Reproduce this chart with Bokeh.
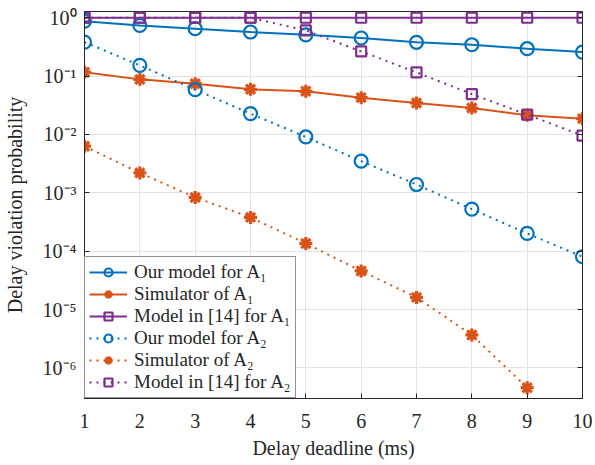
from bokeh.plotting import figure
from bokeh.models import (Range1d, FixedTicker, LogAxis, Legend, LegendItem,
                          CustomJSTickFormatter)
from bokeh.embed import file_html
from bokeh.resources import INLINE

# ---- data ----
x = [1, 2, 3, 4, 5, 6, 7, 8, 9, 10]
our_a1 = [0.875, 0.74, 0.65, 0.57, 0.51, 0.45, 0.38, 0.345, 0.295, 0.258]
sim_a1 = [0.117, 0.088, 0.0743, 0.0594, 0.055, 0.0428, 0.0347, 0.0284, 0.0213, 0.0187]
ref_a1 = [1.0, 1.0, 1.0, 1.0, 1.0, 1.0, 1.0, 1.0, 1.0, 1.0]
our_a2 = [0.383, 0.153, 0.0587, 0.0228, 0.00908, 0.00349, 0.00139, 5.26e-4, 2.02e-4, 8.05e-5]
sim_a2 = [6.3e-3, 2.2e-3, 8.35e-4, 3.8e-4, 1.36e-4, 4.6e-5, 1.62e-5, 3.68e-6, 4.6e-7]
ref_a2 = [1.0, 1.0, 1.0, 1.0, 0.607, 0.265, 0.116, 0.0493, 0.0219, 0.0096]

labels = ["Our model for A\u2081", "Simulator of A\u2081", "Model in [14] for A\u2081",
          "Our model for A\u2082", "Simulator of A\u2082", "Model in [14] for A\u2082"]
y_ticks = [1e-6, 1e-5, 1e-4, 1e-3, 1e-2, 1e-1, 1e0]
x_ticks = [1, 2, 3, 4, 5, 6, 7, 8, 9, 10]

BLUE = "#0072BD"
ORANGE = "#D95319"
PURPLE = "#7E2F8E"
AX = "#262626"
FONT = "Liberation Serif"

p = figure(width=592, height=462, output_backend="svg", toolbar_location=None,
           y_axis_type="log", x_range=Range1d(1, 10), y_range=Range1d(3e-7, 1.28),
           min_border_left=84, min_border_right=10, min_border_top=11, min_border_bottom=64)
p.background_fill_color = "white"
p.border_fill_color = "white"
p.outline_line_color = AX
p.outline_line_width = 1

series = [
    (our_a1, BLUE, "solid", "circle"),
    (sim_a1, ORANGE, "solid", "asterisk"),
    (ref_a1, PURPLE, "solid", "square"),
    (our_a2, BLUE, "2 5", "circle"),
    (sim_a2, ORANGE, "2 5", "asterisk"),
    (ref_a2, PURPLE, "2 5", "square"),
]

items = []
for (ys, col, dash, mk), lab in zip(series, labels):
    xs = x[:len(ys)]
    lr = p.line(xs, ys, line_color=col, line_width=2, line_dash=dash)
    if mk == "circle":
        sr = p.scatter(xs, ys, marker="circle", size=13, line_color=col, line_width=2.2,
                       fill_color=None)
    elif mk == "square":
        sr = p.scatter(xs, ys, marker="square", size=10, line_color=col, line_width=2.2,
                       fill_color=None)
    else:
        sr = p.scatter(xs, ys, marker="asterisk", size=13, line_color=col, line_width=3.2)
    items.append(LegendItem(label=lab, renderers=[lr, sr]))

sup_js = """
const e = Math.round(Math.log10(tick));
const sup = {'-':'\u207b','0':'\u2070','1':'\u00b9','2':'\u00b2','3':'\u00b3','4':'\u2074',
             '5':'\u2075','6':'\u2076','7':'\u2077','8':'\u2078','9':'\u2079'};
return '10' + String(e).split('').map(c => sup[c]).join('');
"""

# axes
p.xaxis.ticker = FixedTicker(ticks=x_ticks)
p.yaxis.ticker = FixedTicker(ticks=y_ticks)
p.yaxis.formatter = CustomJSTickFormatter(code=sup_js)
for ax in [p.xaxis[0], p.yaxis[0]]:
    ax.axis_line_color = AX
    ax.major_tick_line_color = AX
    ax.major_tick_in = 5
    ax.major_tick_out = 0
    ax.minor_tick_line_color = None
    ax.major_label_text_font = FONT
    ax.major_label_text_font_size = "20px"
    ax.major_label_text_color = AX
    ax.axis_label_text_font = FONT
    ax.axis_label_text_font_size = "20px"
    ax.axis_label_text_font_style = "normal"
    ax.axis_label_text_color = AX
p.xaxis.major_label_standoff = 15
p.yaxis.major_label_standoff = 8
p.xaxis.axis_label = "Delay deadline (ms)"
p.yaxis.axis_label = "Delay violation probability"
p.xaxis.axis_label_standoff = 6
p.yaxis.axis_label_standoff = 14

right = LogAxis(ticker=FixedTicker(ticks=y_ticks),
                formatter=CustomJSTickFormatter(code="return '';"),
                axis_line_color=AX, major_tick_line_color=AX, major_tick_in=5,
                major_tick_out=0, minor_tick_line_color=None, major_label_standoff=0)
p.add_layout(right, "right")

p.grid.grid_line_color = "#e3e3e3"
p.grid.grid_line_width = 1
p.xgrid.ticker = FixedTicker(ticks=x_ticks)
p.ygrid.ticker = FixedTicker(ticks=y_ticks)

legend = Legend(items=items, location="bottom_left", margin=0, padding=4, spacing=0,
                label_text_font=FONT, label_text_font_size="19px", label_text_color=AX,
                label_text_line_height=0.95,
                label_height=20, glyph_height=20, glyph_width=38, label_standoff=7,
                border_line_color=AX, border_line_width=1, background_fill_color="white",
                background_fill_alpha=1)
p.add_layout(legend)

open("out.html", "w").write(file_html(p, INLINE))
